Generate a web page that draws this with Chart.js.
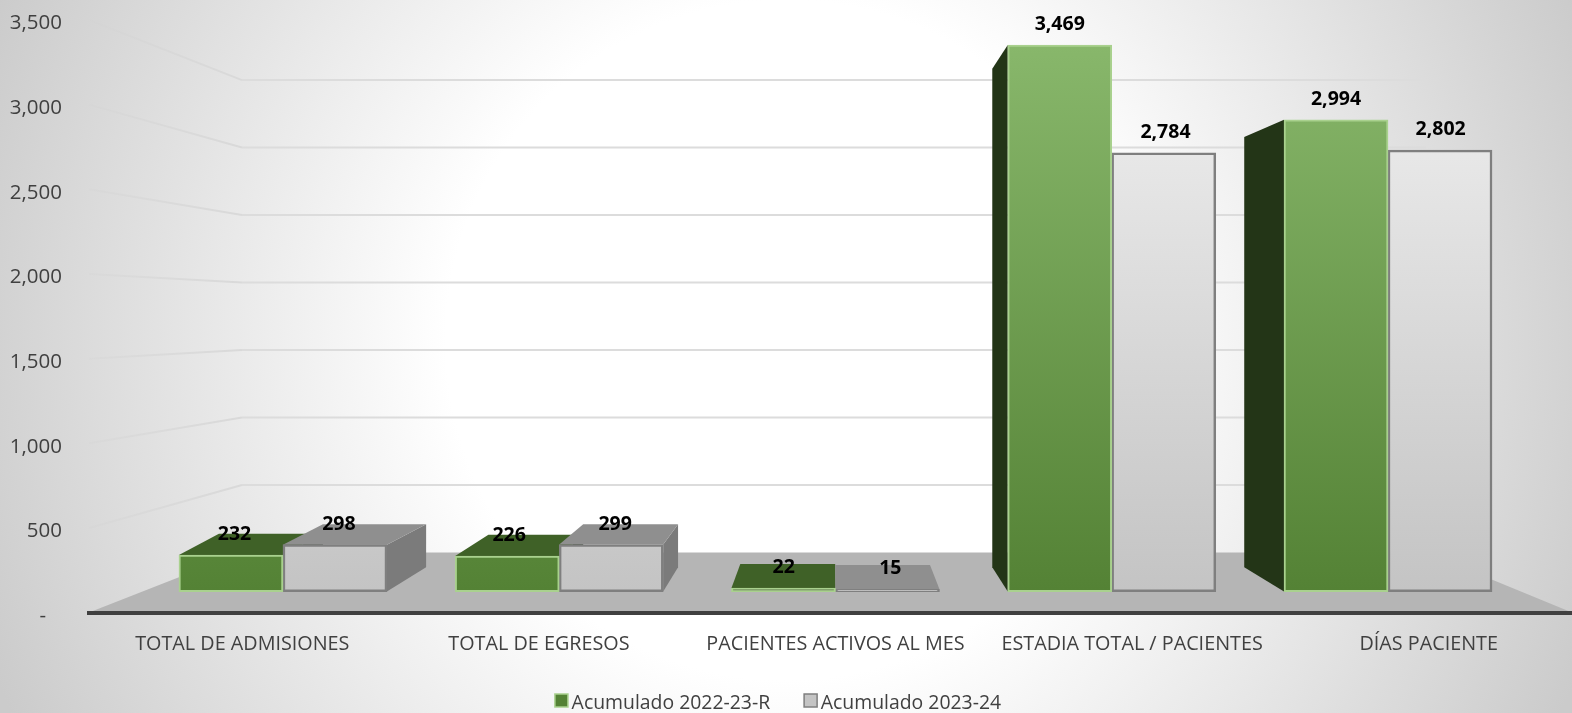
<!DOCTYPE html>
<html>
<head>
<meta charset="utf-8">
<title>Acumulado</title>
<script src="https://cdn.jsdelivr.net/npm/chart.js@4/dist/chart.umd.min.js"></script>
<style>
  html, body { margin: 0; padding: 0; background: #fff; overflow: hidden; }
  #wrap { width: 1572px; height: 713px; }
</style>
</head>
<body>
<div id="wrap"><canvas id="grafico"></canvas></div>
<script>
// datos
const categorias = ['TOTAL DE ADMISIONES', 'TOTAL DE EGRESOS', 'PACIENTES ACTIVOS AL MES', 'ESTADIA TOTAL / PACIENTES', 'DÍAS PACIENTE'];
const acumulado2223 = [232, 226, 22, 3469, 2994];
const acumulado2324 = [298, 299, 15, 2784, 2802];
const marcasEjeY = [0, 500, 1000, 1500, 2000, 2500, 3000, 3500];

// punto de fuga de la perspectiva
const fuga = { x: 832, y: 314, t: 0.088 };
const FUENTE = '"Open Sans", sans-serif';
const CORRER_LEYENDA = 8;

function fondo(puntos, color, ctx) {
    ctx.fillStyle = color;
    ctx.beginPath();
    puntos.forEach((p, i) => i ? ctx.lineTo(p[0], p[1]) : ctx.moveTo(p[0], p[1]));
    ctx.closePath();
    ctx.fill();
}

function atras(x, y) {
    const dx = Math.max(-40, Math.min(40, (fuga.x - x) * fuga.t));
    return [x + dx, y + (fuga.y - y) * fuga.t];
}

function degradado(c, arriba, abajo) {
    const area = c.chart.chartArea;
    if (!area) return abajo;
    const g = c.chart.ctx.createLinearGradient(0, 45, 0, 590);
    g.addColorStop(0, arriba);
    g.addColorStop(1, abajo);
    return g;
}

// fondo, piso y paredes
const paredes = {
    id: 'paredes',
    beforeDraw(chart) {
        const { ctx, width, height, scales, chartArea } = chart;
        ctx.save();
        const g = ctx.createRadialGradient(786, 340, 340, 786, 340, 860);
        g.addColorStop(0, '#ffffff');
        g.addColorStop(1, '#cbcbcb');
        ctx.fillStyle = g;
        ctx.fillRect(0, 0, width, height);

        const yPiso = scales.yPared.getPixelForValue(0);
        const inicio = 242, fin = 1426;
        fondo([[chartArea.left, chartArea.bottom], [inicio, yPiso], [fin, yPiso], [chartArea.right, chartArea.bottom]], '#b5b5b5', ctx);

        ctx.lineWidth = 2;
        marcasEjeY.slice(1).forEach(v => {
            const yFrente = scales.y.getPixelForValue(v);
            const yAtras = scales.yPared.getPixelForValue(v);
            const l = ctx.createLinearGradient(chartArea.left, 0, inicio, 0);
            l.addColorStop(0, 'rgba(210,210,210,0.25)');
            l.addColorStop(1, '#d9d9d9');
            ctx.strokeStyle = l;
            ctx.beginPath();
            ctx.moveTo(chartArea.left, yFrente);
            ctx.lineTo(inicio, yAtras);
            ctx.stroke();
            ctx.strokeStyle = '#dcdcdc';
            ctx.beginPath();
            ctx.moveTo(inicio, yAtras);
            ctx.lineTo(fin, yAtras);
            ctx.stroke();
        });
        ctx.restore();
    }
};

// caras laterales y superiores de las barras
const caras = {
    id: 'caras',
    beforeDatasetsDraw(chart) {
        const { ctx } = chart;
        const colores = [
            { lado: '#233517', arriba: '#3f6127' },
            { lado: '#7b7b7b', arriba: '#8f8f8f' }
        ];
        ctx.save();
        [0, 1].forEach(d => {
            chart.getDatasetMeta(d).data.forEach(b => {
                const izq = b.x - b.width / 2, der = b.x + b.width / 2;
                const sup = b.y, inf = b.base;
                if (izq > fuga.x) {
                    fondo([[izq, sup], atras(izq, sup), atras(izq, inf), [izq, inf]], colores[d].lado, ctx);
                }
                if (der < fuga.x) {
                    fondo([[der, sup], atras(der, sup), atras(der, inf), [der, inf]], colores[d].lado, ctx);
                }
                if (sup > fuga.y) {
                    fondo([[izq, sup], atras(izq, sup), atras(der, sup), [der, sup]], colores[d].arriba, ctx);
                }
            });
        });
        ctx.restore();
    },
    afterDatasetsDraw(chart) {
        const { ctx } = chart;
        ctx.save();
        ctx.fillStyle = '#000000';
        ctx.font = 'bold 19.5px ' + FUENTE;
        ctx.textAlign = 'center';
        ctx.textBaseline = 'middle';
        [0, 1].forEach(d => {
            const valores = chart.data.datasets[d].data;
            chart.getDatasetMeta(d).data.forEach((b, i) => {
                const texto = valores[i].y.toLocaleString('en-US');
                const corrido = d ? 4 - Math.max(0, b.x - 600) * 0.004 : Math.max(0, (fuga.x - b.x) * 0.006);
                ctx.fillText(texto, b.x + corrido, b.y - 20.5);
            });
        });
        ctx.restore();
    }
};

// la leyenda no esta centrada y su cuadro queda pegado al texto
const ajusteLeyenda = {
    id: 'ajusteLeyenda',
    afterLayout(chart) {
        chart.legend.left -= CORRER_LEYENDA;
        chart.legend.right -= CORRER_LEYENDA;
        chart.legend.top = 660;
    },
    afterDraw(chart) {
        const { ctx, legend } = chart;
        ctx.save();
        legend.legendItems.forEach((item, i) => {
            const caja = legend.legendHitBoxes[i];
            ctx.fillStyle = item.cajaRelleno;
            ctx.strokeStyle = item.cajaBorde;
            ctx.lineWidth = 1.5;
            ctx.fillRect(caja.left, 694, 13, 13);
            ctx.strokeRect(caja.left, 694, 13, 13);
        });
        ctx.restore();
    }
};

new Chart(document.getElementById('grafico'), {
    type: 'bar',
    data: {
        labels: categorias,
        datasets: [
            {
                label: 'Acumulado 2022-23-R',
                data: acumulado2223.map((v, i) => ({ x: i, y: v })),
                xAxisID: 'xBarras',
                yAxisID: 'yBarras',
                barThickness: 104,
                borderSkipped: false,
                backgroundColor: c => degradado(c, '#88b76b', '#548235'),
                borderColor: '#a9d18e',
                borderWidth: 2
            },
            {
                label: 'Acumulado 2023-24',
                data: acumulado2324.map((v, i) => ({ x: i, y: v })),
                xAxisID: 'xBarras',
                yAxisID: 'yBarras',
                barThickness: 104,
                borderSkipped: false,
                backgroundColor: c => degradado(c, '#f0f0f0', '#c4c4c4'),
                borderColor: '#7f7f7f',
                borderWidth: 2.5
            }
        ]
    },
    options: {
        responsive: true,
        maintainAspectRatio: false,
        animation: false,
        layout: { padding: { top: 20, left: 0, right: 0, bottom: -13 } },
        scales: {
            x: {
                type: 'category',
                labels: categorias,
                offset: true,
                afterFit: s => { s.height = 50; s.paddingLeft = 0; s.paddingRight = 0; },
                grid: { display: false },
                border: { display: true, color: '#404040', width: 4 },
                ticks: {
                    autoSkip: false,
                    maxRotation: 0,
                    padding: 12,
                    labelOffset: 5,
                    color: '#404040',
                    font: { family: FUENTE, size: 19.8 }
                }
            },
            y: {
                min: 0,
                max: 3500,
                afterFit: s => { s.width = 89; s.paddingTop = 0; s.paddingBottom = 0; },
                afterBuildTicks: s => { s.ticks = marcasEjeY.map(v => ({ value: v })); },
                grid: { display: false, drawTicks: false },
                border: { display: false },
                ticks: {
                    padding: 27,
                    labelOffset: 3.5,
                    color: '#404040',
                    font: { family: FUENTE, size: 20.5 },
                    callback: v => v === 0 ? '-   ' : v.toLocaleString('en-US')
                }
            },
            // escalas ocultas: las barras y el fondo tienen otra perspectiva que los ejes
            xBarras: { type: 'linear', axis: 'x', position: 'bottom', display: false, offset: false, min: -0.702, max: 4.666 },
            yBarras: { type: 'linear', axis: 'y', position: 'left', display: false, min: -133.4, max: 3627.7 },
            yPared: { type: 'linear', axis: 'y', position: 'left', display: false, min: -445, max: 3945 }
        },
        plugins: {
            title: { display: false },
            tooltip: { enabled: false },
            legend: {
                position: 'bottom',
                labels: {
                    boxWidth: 7,
                    boxHeight: 9,
                    padding: 34,
                    color: '#404040',
                    font: { family: FUENTE, size: 19.4 },
                    // la caja nativa queda transparente, se pinta en ajusteLeyenda
                    generateLabels: chart => Chart.defaults.plugins.legend.labels.generateLabels(chart).map(item => ({
                        ...item,
                        cajaRelleno: item.fillStyle,
                        cajaBorde: item.strokeStyle,
                        fillStyle: 'transparent',
                        strokeStyle: 'transparent'
                    }))
                }
            }
        }
    },
    plugins: [paredes, caras, ajusteLeyenda]
});
</script>
</body>
</html>
